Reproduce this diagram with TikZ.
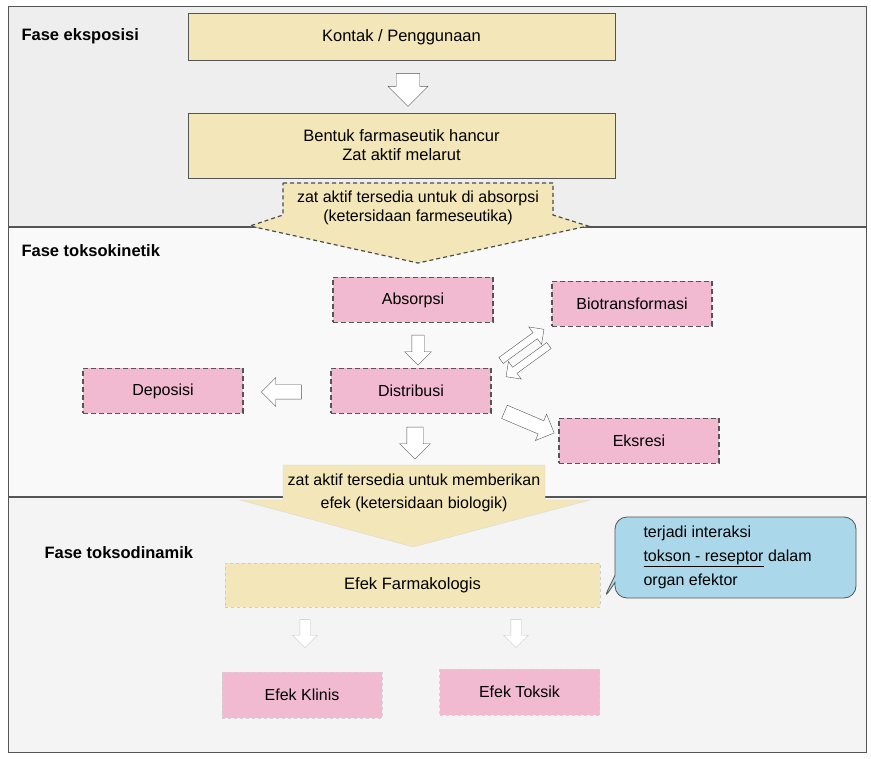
\documentclass[tikz,border=0pt]{standalone}
\usepackage{fontspec}
\setmainfont{Liberation Sans}
\usetikzlibrary{shapes.arrows,shapes.callouts,calc,positioning}

\definecolor{krem}{RGB}{243,230,184}
\definecolor{merahmuda}{RGB}{241,186,208}
\definecolor{birumuda}{RGB}{170,216,234}
\definecolor{garis}{RGB}{85,85,85}
\definecolor{latar}{RGB}{238,238,238}

\tikzset{
  fase/.style={anchor=west,font=\fontsize{16.5}{19}\selectfont\bfseries},
  kotakkrem/.style={draw=garis,thick,fill=krem,minimum width=427,align=center,
    font=\fontsize{16.5}{19}\selectfont},
  kotakpink/.style={draw=garis,very thick,dash pattern=on 5pt off 3pt,fill=merahmuda,
    minimum width=160,minimum height=45,font=\fontsize{16}{19}\selectfont},
  kotakpucat/.style={draw=gray!35,dashed,fill=merahmuda,minimum width=160,
    minimum height=46,font=\fontsize{16}{19}\selectfont},
  panah/.style={single arrow,draw=garis,fill=white,single arrow head indent=0pt},
  panahpucat/.style={single arrow,draw=gray!45,fill=white,single arrow head indent=0pt},
}

\begin{document}
\begin{tikzpicture}[x=1pt,y=-1pt]
  \useasboundingbox (0,0) rectangle (871,759);
  % latar tiap fase
  \fill[latar] (8,6) rectangle (866,227);
  \fill[gray!5] (8,227) rectangle (866,497);
  \fill[gray!9] (8,497) rectangle (866,752);
  \draw[garis,thick] (8,6) rectangle (866,752);
  \draw[garis,very thick] (8,227) -- (866,227);%batas fase 1
  \draw[garis,very thick] (8,497) -- (866,497);%batas fase 2

  % fase eksposisi
  \node[fase] (fase1) at (18,36) {Fase eksposisi};
  \node[kotakkrem,minimum height=47] (kontak) at (401.5,37) {Kontak / Penggunaan};
  \node[kotakkrem,minimum height=65] (bentuk) at (401.5,145.5)
      {Bentuk farmaseutik hancur\\Zat aktif melarut};
  \node[panah,rotate=-90,minimum height=33,minimum width=40,inner sep=10pt]
      (p1) at (408,84) {};
  \draw[black!70,very thick,dash pattern=on 4pt off 3pt,fill=krem]
      (283,183) -- (553,183) -- (553,215) -- (588,226) -- (418,263)
      -- (250,226) -- (283,215) -- cycle;
  \node[align=center,font=\fontsize{16}{19}\selectfont] (tersedia1) at (418,208)
      {zat aktif tersedia untuk di absorpsi\\(ketersidaan farmeseutika)};

  % fase toksokinetik
  \node[fase] (fase2) at (18,251) {Fase toksokinetik};
  \node[kotakpink] (absorpsi) at (413,300) {Absorpsi};
  \node[kotakpink] (biotrans) at (632,304) {Biotransformasi};
  \node[kotakpink] (deposisi) at (163,391) {Deposisi};
  \node[kotakpink] (distribusi) at (411,391) {Distribusi};
  \node[kotakpink] (ekskresi) at (639,441) {Eksresi};
  \node[panah,rotate=-90,minimum height=30,minimum width=24,inner sep=6pt]
      (p2) at (418,347) {};
  \node[panah,rotate=180,minimum height=40,minimum width=26,inner sep=7pt]
      (p3) at (285,392) {};
  \node[panah,rotate=36,minimum height=53,minimum width=16,inner sep=3.5pt]
      (p4) at (521,346) {};
  \node[panah,rotate=216,minimum height=53,minimum width=16,inner sep=3.5pt]
      (p5) at (529,360) {};
  \node[panah,rotate=-23,minimum height=54,minimum width=28,inner sep=7pt]
      (p6) at (526,421) {};
  \node[panah,rotate=-90,minimum height=32,minimum width=30,inner sep=8pt]
      (p7) at (415,439) {};

  % fase toksodinamik
  \draw[gray!30,fill=krem]
      (283,465) -- (545,465) -- (545,500) -- (590,500) -- (413,547)
      -- (240,500) -- (283,500) -- cycle;
  \node[align=center,font=\fontsize{16}{23}\selectfont] (tersedia2) at (414,493)
      {zat aktif tersedia untuk memberikan\\efek (ketersidaan biologik)};
  \node[fase] (fase3) at (41,553) {Fase toksodinamik};
  \node[draw=gray!40,dashed,fill=krem,minimum width=375,minimum height=44,
      font=\fontsize{16.5}{19}\selectfont] (farmakologis) at (412.5,585) {Efek Farmakologis};
  \node[rectangle callout,rounded corners=12pt,draw=garis,thick,fill=birumuda,
      minimum width=241,minimum height=81,
      callout absolute pointer={(603,600)}] (interaksi) at (735.5,557.5) {};
  \node[anchor=west,align=left,font=\fontsize{16}{24}\selectfont]
      (interaksiteks) at (640,557)
      {terjadi interaksi\\\underline{tokson - reseptor} dalam\\organ efektor};
  \node[panahpucat,rotate=-90,minimum height=28,minimum width=20,inner sep=5pt]
      (p8) at (305,631) {};
  \node[panahpucat,rotate=-90,minimum height=28,minimum width=20,inner sep=5pt]
      (p9) at (516,631) {};
  \node[kotakpucat] (klinis) at (302,695) {Efek Klinis};
  \node[kotakpucat] (toksik) at (519.5,692) {Efek Toksik};
\end{tikzpicture}
\end{document}
